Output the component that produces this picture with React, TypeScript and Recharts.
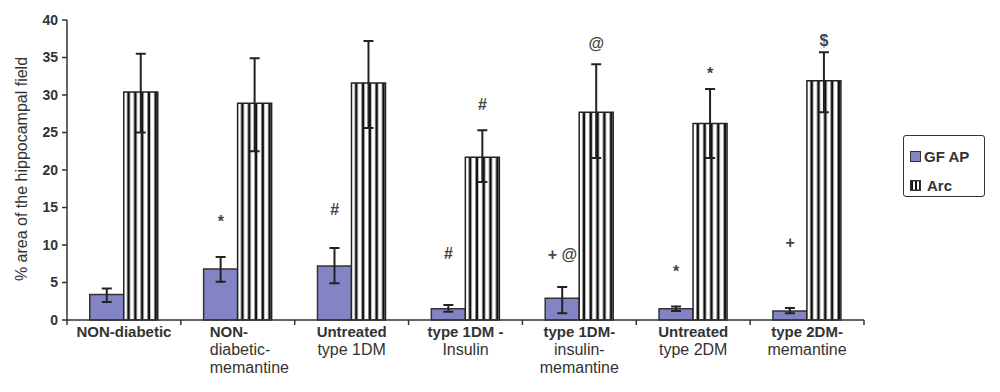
import React from 'react';
import { ComposedChart, Bar, Scatter, XAxis, YAxis, ErrorBar, Legend } from 'recharts';

const groups = [
  'NON-diabetic',
  'NON-\ndiabetic-\nmemantine',
  'Untreated\ntype 1DM',
  'type 1DM -\nInsulin',
  'type 1DM-\ninsulin-\nmemantine',
  'Untreated\ntype 2DM',
  'type 2DM-\nmemantine',
];
const gfap = [3.4, 6.8, 7.2, 1.5, 2.9, 1.5, 1.2];
const gfapErr = [[1.0, 0.8], [1.7, 1.6], [2.3, 2.4], [0.4, 0.5], [2.0, 1.5], [0.3, 0.3], [0.3, 0.4]];
const arc = [30.4, 28.9, 31.6, 21.7, 27.7, 26.2, 31.9];
const arcErr = [[5.4, 5.1], [6.4, 6.0], [6.0, 5.6], [3.3, 3.6], [6.1, 6.4], [4.6, 4.6], [4.2, 3.8]];
// significance marks and the value level they sit at
const gfapMarks = ['', '*', '#', '#', '+ @', '*', '+'];
const gfapMarkAt = [null, 13.1, 14.8, 8.9, 8.7, 6.5, 10.3];
const arcMarks = ['', '', '', '#', '@', '*', '$'];
const arcMarkAt = [null, null, null, 28.7, 36.9, 32.9, 37.3];
const yTicks = [0, 5, 10, 15, 20, 25, 30, 35, 40];
const seriesNames = ['GF AP', 'Arc'];
const yLabel = '% area of the hippocampal field';

const data = groups.map((name, i) => ({
  name,
  gfap: gfap[i],
  gfapErr: gfapErr[i],
  arc: arc[i],
  arcErr: arcErr[i],
  gfapMark: gfapMarks[i],
  gfapMarkAt: gfapMarkAt[i],
  arcMark: arcMarks[i],
  arcMarkAt: arcMarkAt[i],
}));

const FONT = '"Liberation Sans", Arial, Helvetica, sans-serif';
const INK = '#333';
const PURPLE = '#8484c4';
const PLOT_LEFT = 67;
const PLOT_RIGHT = 864;
const BAND = (PLOT_RIGHT - PLOT_LEFT) / groups.length;
const BAR_W = 34;

function CategoryTick(props: any) {
  const { x, y, payload, index } = props;
  const lines = String(payload.value).split('\n');
  const leftAligned = index === 1;
  return (
    <g>
      <line x1={x - BAND / 2} y1={y} x2={x - BAND / 2} y2={y + 5} stroke={INK} strokeWidth={1.5} />
      {index === groups.length - 1 && (
        <line x1={x + BAND / 2} y1={y} x2={x + BAND / 2} y2={y + 5} stroke={INK} strokeWidth={1.5} />
      )}
      {lines.map((t, i) => (
        <text
          key={i}
          x={leftAligned ? x - 28 : x}
          y={y + 17 + i * 18}
          textAnchor={leftAligned ? 'start' : 'middle'}
          fontFamily={FONT}
          fontSize={i === 0 ? 15 : 16}
          fontWeight={i === 0 ? 'bold' : 'normal'}
          fill={INK}
        >
          {t}
        </text>
      ))}
    </g>
  );
}

const markShape = (side: 'gfap' | 'arc') => (p: any) => {
  const mark = p.payload ? p.payload[side + 'Mark'] : '';
  if (!mark || !Number.isFinite(p.cx) || !Number.isFinite(p.cy)) return <g />;
  const x = side === 'gfap' ? p.cx - BAR_W / 2 : p.cx + BAR_W / 2;
  return (
    <text
      x={x}
      y={p.cy}
      textAnchor="middle"
      dominantBaseline="central"
      fontFamily={FONT}
      fontSize={16}
      fontWeight="bold"
      fill="#444"
    >
      {mark}
    </text>
  );
};

function StripeSwatch() {
  return (
    <svg width={11} height={11} style={{ display: 'block' }}>
      <defs>
        <pattern id="arcStripesSmall" patternUnits="userSpaceOnUse" width={4} height={11}>
          <rect width={4} height={11} fill="#fff" />
          <rect x={1} width={2} height={11} fill="#111" />
        </pattern>
      </defs>
      <rect x={0.75} y={0.75} width={9.5} height={9.5} fill="url(#arcStripesSmall)" stroke={INK} strokeWidth={1.5} />
    </svg>
  );
}

function LegendBox() {
  return (
    <div
      style={{
        border: `1.5px solid ${INK}`,
        borderRadius: 3,
        width: 82,
        height: 62,
        boxSizing: 'border-box',
        padding: '11px 0 0 6px',
        fontFamily: FONT,
        fontSize: 15,
        fontWeight: 'bold',
        color: INK,
        background: '#fff',
      }}
    >
      <div style={{ display: 'flex', alignItems: 'center', height: 18 }}>
        <div style={{ width: 9, height: 9, background: PURPLE, border: `1.5px solid ${INK}` }} />
        <span style={{ marginLeft: 3 }}>{seriesNames[0]}</span>
      </div>
      <div style={{ display: 'flex', alignItems: 'center', height: 18, marginTop: 11 }}>
        <StripeSwatch />
        <span style={{ marginLeft: 6 }}>{seriesNames[1]}</span>
      </div>
    </div>
  );
}

export default function App() {
  return (
    <div style={{ position: 'absolute', left: 0, top: 0, width: 1000, height: 392, background: '#fff' }}>
      <ComposedChart
        width={1000}
        height={392}
        data={data}
        margin={{ top: 20, right: 1000 - PLOT_RIGHT, bottom: 12, left: 0 }}
        barCategoryGap="20%"
        barGap={0}
      >
        <defs>
          <pattern id="arcStripes" patternUnits="objectBoundingBox" patternContentUnits="objectBoundingBox" width={0.2} height={1}>
            <rect width={0.2} height={1} fill="#fff" />
            <rect x={0.1} width={0.08} height={1} fill="#111" />
          </pattern>
        </defs>
        <XAxis
          dataKey="name"
          height={60}
          interval={0}
          tickLine={false}
          tickSize={0}
          tickMargin={0}
          axisLine={{ stroke: INK, strokeWidth: 1.5 }}
          tick={<CategoryTick />}
        />
        <YAxis
          width={PLOT_LEFT}
          domain={[0, 40]}
          ticks={yTicks}
          interval={0}
          tickSize={5}
          tickMargin={4}
          axisLine={{ stroke: INK, strokeWidth: 1.5 }}
          tickLine={{ stroke: INK, strokeWidth: 1.5 }}
          tick={{ fill: INK, fontSize: 14, fontWeight: 'bold', fontFamily: FONT }}
          label={{
            content: () => (
              <text transform="translate(27,169) rotate(-90)" textAnchor="middle" fontFamily={FONT} fontSize={16} fill={INK}>
                {yLabel}
              </text>
            ),
          }}
        />
        <Legend
          layout="vertical"
          align="center"
          verticalAlign="middle"
          content={() => <LegendBox />}
          wrapperStyle={{ left: 903, top: 135, width: 82, height: 62 }}
        />
        <Bar dataKey="gfap" name={seriesNames[0]} fill={PURPLE} stroke={INK} strokeWidth={1.5} isAnimationActive={false}>
          <ErrorBar dataKey="gfapErr" direction="y" width={5} stroke="#222" strokeWidth={2} />
        </Bar>
        <Bar dataKey="arc" name={seriesNames[1]} fill="url(#arcStripes)" stroke="#222" strokeWidth={1.5} isAnimationActive={false}>
          <ErrorBar dataKey="arcErr" direction="y" width={5} stroke="#222" strokeWidth={2} />
        </Bar>
        <Scatter dataKey="gfapMarkAt" shape={markShape('gfap')} isAnimationActive={false} legendType="none" />
        <Scatter dataKey="arcMarkAt" shape={markShape('arc')} isAnimationActive={false} legendType="none" />
      </ComposedChart>
    </div>
  );
}
